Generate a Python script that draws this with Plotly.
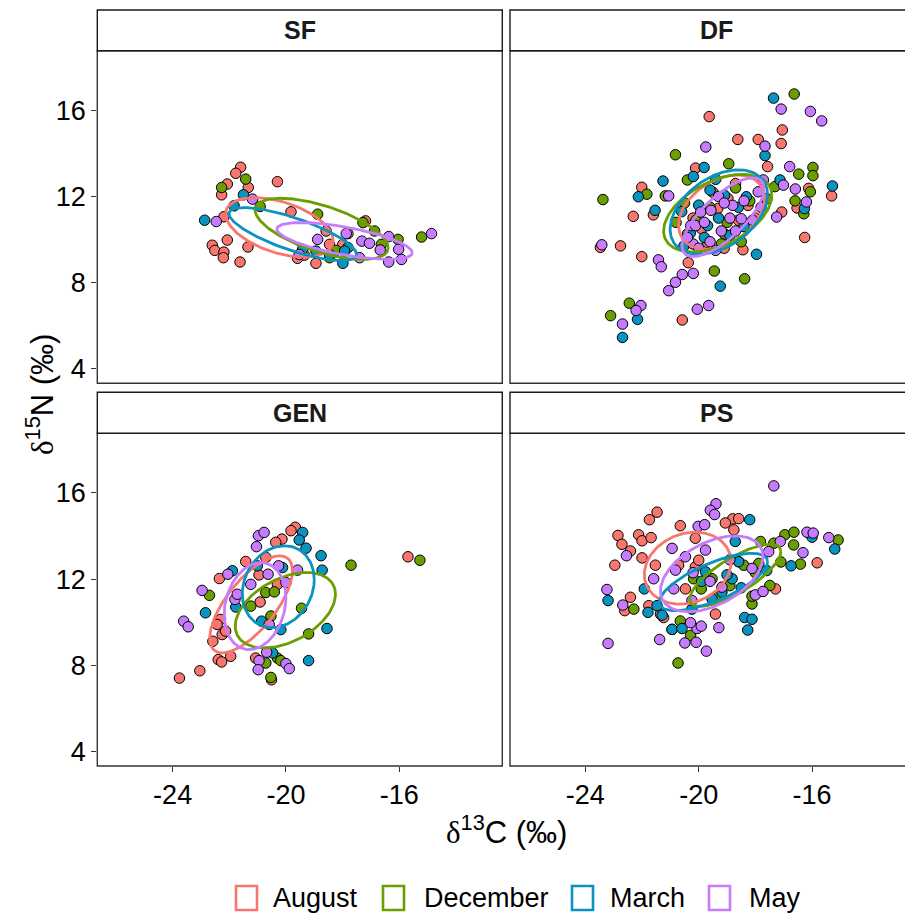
import numpy as np
import plotly.graph_objects as go

seasons = ["August", "December", "March", "May"]
colors = ["#F8766D", "#6B9E00", "#0A93BF", "#C77CFF"]
panels = ["SF", "DF", "GEN", "PS"]
x_ticks = [-24, -20, -16]
x_tick_labels = ["-24", "-20", "-16"]
y_ticks = [4, 8, 12, 16]
y_tick_labels = ["4", "8", "12", "16"]

# ---------------- SF ----------------
sf_aug_x = [-21.60, -21.77, -22.07, -22.27, -21.33, -20.30, -19.82, -22.19, -22.07, -22.60, -22.51, -22.19,
            -22.21, -21.62, -21.34, -19.59, -19.35, -18.94, -18.58, -17.81, -17.19, -17.99, -18.46]
sf_aug_y = [13.36, 13.08, 12.58, 12.08, 12.42, 12.69, 11.29, 11.06, 9.98, 9.74, 9.50, 9.42,
            9.16, 8.96, 9.66, 9.13, 9.28, 8.90, 10.40, 10.28, 10.87, 9.78, 9.78]
sf_dec_x = [-21.42, -22.27, -20.91, -18.88, -17.28, -16.87, -16.04, -15.21, -18.46, -18.23, -16.63]
sf_dec_y = [12.81, 12.42, 11.54, 11.18, 10.79, 10.40, 10.01, 10.12, 9.16, 9.50, 9.78]
sf_mar_x = [-22.87, -21.50, -21.83, -19.41, -18.94, -17.99, -17.81, -18.46, -17.93]
sf_mar_y = [10.90, 12.08, 11.57, 9.55, 9.47, 8.90, 9.63, 9.31, 9.47]
sf_may_x = [-22.46, -21.18, -18.88, -17.87, -17.32, -17.05, -16.67, -16.37, -16.02, -15.92, -16.37, -17.40,
            -14.86, -19.53]
sf_may_y = [10.84, 11.88, 10.01, 10.28, 9.93, 9.83, 9.52, 10.14, 9.55, 9.08, 8.96, 9.16, 10.28, 9.31]

# ---------------- DF ----------------
df_aug_x = [-19.63, -18.62, -17.90, -17.05, -17.09, -17.57, -22.01, -22.31, -21.60, -22.76, -23.47, -22.01,
            -20.58, -16.26, -15.31, -16.12, -16.53, -17.07, -20.11, -20.37, -18.44, -18.26, -19.33, -19.69,
            -18.97, -19.9, -19.0, -18.7, -19.5, -18.6, -20.2, -19.1, -18.0]
df_aug_y = [15.71, 14.65, 14.65, 15.09, 14.46, 13.39, 12.43, 11.08, 11.15, 9.71, 9.64, 9.21,
            6.27, 10.10, 12.03, 12.38, 11.47, 11.28, 13.32, 8.93, 9.53, 11.59, 11.44, 9.87,
            11.91, 10.5, 10.0, 12.6, 12.2, 10.9, 11.0, 9.6, 11.0]
df_dec_x = [-23.38, -20.82, -18.94, -16.63, -15.97, -15.97, -16.47, -17.31, -16.29, -18.38, -19.45, -22.45,
            -23.11, -21.83, -21.18, -20.40, -16.06, -19.09, -20.40, -19.6, -18.7, -20.1, -18.2, -19.0,
            -17.6, -16.6, -20.5, -19.2, -18.5, -20.8]
df_dec_y = [11.86, 13.94, 13.52, 16.76, 13.35, 12.97, 13.04, 12.46, 11.20, 8.18, 8.54, 7.05,
            6.47, 12.11, 12.03, 12.77, 12.22, 10.26, 10.26, 11.5, 12.4, 10.9, 11.8, 10.8,
            11.9, 11.8, 11.7, 9.8, 9.9, 10.8]
df_mar_x = [-17.36, -17.66, -17.13, -15.28, -22.13, -21.26, -21.54, -20.19, -19.81, -17.96, -19.24, -22.16,
            -22.69, -18.32, -19.09, -19.69, -20.52, -16.27, -19.3, -18.9, -20.0, -19.6, -18.6, -20.3,
            -19.8, -18.4, -19.4, -20.6]
df_mar_y = [16.57, 13.90, 12.77, 12.49, 11.99, 12.72, 11.36, 12.93, 13.35, 9.32, 7.84, 6.30,
            5.46, 11.99, 12.06, 10.65, 9.71, 11.44, 11.0, 10.2, 11.6, 12.3, 11.5, 10.3,
            10.1, 10.6, 12.8, 11.3]
df_may_x = [-17.09, -16.06, -15.66, -19.75, -17.66, -16.79, -17.72, -17.01, -16.59, -16.20, -17.25, -21.06,
            -23.42, -21.42, -21.32, -20.58, -20.19, -20.82, -21.06, -22.04, -22.21, -22.69, -20.05, -19.65,
            -19.93, -19.57, -18.80, -18.50, -17.90, -20.28, -20.11, -19.2, -18.9, -19.6, -20.2, -18.4,
            -19.3, -19.8, -18.7, -20.0, -19.4, -18.1, -17.8, -19.1, -20.4]
df_may_y = [16.06, 15.95, 15.51, 14.30, 14.34, 13.39, 12.77, 12.53, 12.35, 11.75, 11.05, 12.03,
            9.76, 9.06, 8.74, 8.38, 8.43, 8.02, 7.63, 6.94, 6.71, 6.08, 6.77, 6.94,
            11.28, 11.36, 11.59, 10.97, 12.22, 10.65, 10.65, 10.4, 11.0, 9.9, 9.8, 11.8,
            12.0, 10.8, 10.4, 9.6, 9.5, 10.9, 11.5, 11.7, 10.1]

# ---------------- GEN ----------------
gen_aug_x = [-15.69, -19.67, -19.82, -20.14, -20.36, -21.42, -22.35, -20.95, -20.91, -22.31, -22.43, -22.25,
             -22.13, -22.58, -22.39, -22.27, -21.95, -23.04, -23.76, -21.07, -20.51, -20.71, -20.30]
gen_aug_y = [13.04, 14.41, 14.25, 13.86, 13.71, 12.82, 12.03, 12.20, 10.94, 10.13, 9.90, 9.43,
             9.59, 9.12, 8.27, 8.16, 8.42, 7.75, 7.41, 8.34, 7.33, 13.01, 11.76]
gen_dec_x = [-15.27, -17.70, -22.70, -20.71, -20.41, -19.45, -19.20, -20.53, -20.30, -20.18, -20.53, -20.71,
             -21.24]
gen_dec_y = [12.88, 12.65, 11.25, 11.38, 11.41, 10.65, 9.46, 10.29, 8.34, 8.22, 7.44, 8.11, 10.75]
gen_mar_x = [-19.41, -19.53, -19.29, -18.76, -18.72, -18.55, -19.20, -22.84, -21.77, -21.01, -20.12, -20.86,
             -20.47, -20.18, -21.89]
gen_mar_y = [14.17, 13.82, 13.44, 13.09, 12.42, 9.71, 8.22, 10.44, 10.71, 12.62, 12.54, 10.05,
             8.58, 9.66, 12.39]
gen_may_x = [-20.97, -20.77, -21.04, -22.96, -23.61, -23.45, -22.05, -21.80, -21.24, -20.26, -20.63, -20.00,
             -19.59, -20.95, -20.98, -20.00, -19.88, -20.68, -21.72, -20.59]
gen_may_y = [14.02, 14.17, 13.51, 11.48, 10.05, 9.79, 12.23, 11.06, 11.76, 12.62, 12.23, 11.84,
             12.42, 8.22, 7.80, 8.08, 7.85, 8.61, 11.30, 9.90]

# ---------------- PS ----------------
ps_aug_x = [-21.47, -21.74, -22.85, -22.71, -22.41, -22.12, -22.00, -21.68, -22.96, -22.00, -20.65, -20.12,
            -18.80, -18.59, -19.06, -18.76, -15.82, -22.41, -22.61, -21.76, -21.35, -21.24, -20.94, -20.12,
            -20.00, -19.41, -20.47, -17.29, -21.53, -20.71]
ps_aug_y = [15.11, 14.76, 14.03, 13.62, 13.31, 14.06, 13.78, 13.93, 12.65, 12.99, 14.48, 13.90,
            14.80, 14.81, 14.61, 14.29, 12.76, 11.16, 10.54, 10.77, 10.38, 10.22, 9.67, 12.57,
            12.88, 10.38, 11.55, 11.55, 12.65, 12.65]
ps_dec_x = [-20.73, -22.29, -20.29, -20.65, -17.82, -16.96, -16.64, -16.65, -16.41, -17.35, -17.49, -18.12,
            -18.12, -15.08, -18.59, -19.53, -20.18, -18.41, -17.88, -19.91, -18.9, -19.3, -18.0, -17.1]
ps_dec_y = [8.11, 10.61, 9.39, 10.06, 13.75, 14.06, 14.18, 13.59, 12.70, 13.67, 11.71, 10.85,
            11.21, 13.82, 12.81, 12.02, 12.02, 12.65, 12.73, 11.55, 11.7, 11.2, 12.3, 12.8]
ps_mar_x = [-18.20, -23.20, -21.92, -21.79, -21.29, -20.94, -20.59, -18.38, -18.12, -18.27, -15.20, -16.00,
            -16.74, -18.71, -18.82, -18.59, -19.76, -19.18, -19.53, -20.24, -21.47, -19.0, -18.5, -19.9,
            -17.6]
ps_mar_y = [14.76, 11.01, 11.55, 10.46, 10.33, 9.67, 9.71, 10.22, 10.14, 9.64, 13.40, 13.95,
            12.62, 13.75, 12.02, 12.81, 12.34, 11.40, 11.08, 10.61, 10.77, 12.2, 11.6, 11.9,
            12.4]
ps_may_x = [-17.35, -19.39, -19.59, -19.44, -20.02, -19.79, -22.55, -23.24, -23.20, -21.38, -20.49, -20.09,
            -19.73, -19.29, -20.06, -19.91, -20.29, -18.00, -17.73, -16.18, -15.96, -15.41, -16.32, -17.53,
            -17.12, -18.12, -20.94, -20.47, -19.76, -20.82, -21.59, -20.88, -19.18, -22.68, -20.24, -19.6,
            -18.9, -20.2]
ps_may_y = [16.33, 15.50, 15.20, 15.00, 14.45, 14.53, 13.09, 11.52, 9.02, 9.20, 9.04, 9.07,
            8.66, 9.75, 9.71, 9.82, 9.98, 11.27, 11.43, 14.18, 14.14, 13.93, 13.23, 13.28,
            13.75, 12.50, 13.43, 13.04, 13.35, 12.42, 12.02, 11.55, 11.63, 10.80, 11.01, 11.9,
            12.9, 12.3]

# ---------------- ellipse parameters (per season: Aug, Dec, Mar, May) ----------------
# centre (cx, cy), half x-extent rx, half y-extent ry, phase phi (deg) giving the tilt
sf_ell_cx = [-20.23, -18.74, -19.76, -17.93]
sf_ell_cy = [10.57, 10.50, 10.26, 9.94]
sf_ell_rx = [1.90, 2.35, 2.25, 2.39]
sf_ell_ry = [1.38, 1.42, 1.23, 0.855]
sf_ell_phi = [117, 128, 140, 130]

df_ell_cx = [-19.19, -19.33, -19.29, -19.14]
df_ell_cy = [11.28, 11.23, 11.28, 11.04]
df_ell_rx = [1.52, 1.91, 1.72, 1.45]
df_ell_ry = [1.72, 1.80, 1.96, 1.83]
df_ell_phi = [69, 62.6, 66, 43]

gen_ell_cx = [-21.23, -20.02, -20.27, -21.09]
gen_ell_cy = [10.83, 10.56, 11.65, 10.75]
gen_ell_rx = [1.46, 1.77, 1.27, 1.09]
gen_ell_ry = [2.25, 1.75, 1.90, 2.02]
gen_ell_phi = [46, 65, 80, 79]

ps_ell_cx = [-20.39, -18.71, -19.48, -19.54]
ps_ell_cy = [12.51, 12.18, 11.87, 12.25]
ps_ell_rx = [1.53, 1.61, 1.91, 1.81]
ps_ell_ry = [1.67, 1.44, 1.33, 1.76]
ps_ell_phi = [80, 40, 45, 63]

points = {
    "SF": [(sf_aug_x, sf_aug_y), (sf_dec_x, sf_dec_y), (sf_mar_x, sf_mar_y), (sf_may_x, sf_may_y)],
    "DF": [(df_aug_x, df_aug_y), (df_dec_x, df_dec_y), (df_mar_x, df_mar_y), (df_may_x, df_may_y)],
    "GEN": [(gen_aug_x, gen_aug_y), (gen_dec_x, gen_dec_y), (gen_mar_x, gen_mar_y), (gen_may_x, gen_may_y)],
    "PS": [(ps_aug_x, ps_aug_y), (ps_dec_x, ps_dec_y), (ps_mar_x, ps_mar_y), (ps_may_x, ps_may_y)],
}
ellipses = {
    "SF": (sf_ell_cx, sf_ell_cy, sf_ell_rx, sf_ell_ry, sf_ell_phi),
    "DF": (df_ell_cx, df_ell_cy, df_ell_rx, df_ell_ry, df_ell_phi),
    "GEN": (gen_ell_cx, gen_ell_cy, gen_ell_rx, gen_ell_ry, gen_ell_phi),
    "PS": (ps_ell_cx, ps_ell_cy, ps_ell_rx, ps_ell_ry, ps_ell_phi),
}


def ellipse_path(cx, cy, rx, ry, phi_deg, n=160):
    t = np.linspace(0, 2 * np.pi, n)
    phi = np.deg2rad(phi_deg)
    return cx + rx * np.cos(t), cy + ry * np.cos(t - phi)


W, H = 905, 915
FONT = "Liberation Sans, Arial, sans-serif"

# panel geometry (paper fractions)
x_dom = {"L": [97.3 / W, 502.3 / W], "R": [510 / W, 1.0]}
y_dom = {"T": [1 - 383.3 / H, 1 - 50.7 / H], "B": [1 - 766 / H, 1 - 433.3 / H]}
strip_y = {"T": [1 - 50.7 / H, 1 - 10 / H], "B": [1 - 433.3 / H, 1 - 392.3 / H]}
x_rng = {"L": [-26.66, -12.36], "R": [-26.66, -12.72]}
y_rng = [3.33, 18.77]

panel_pos = {"SF": ("L", "T", ""), "DF": ("R", "T", "2"), "GEN": ("L", "B", "3"), "PS": ("R", "B", "4")}

fig = go.Figure()

for p in panels:
    col, row, sfx = panel_pos[p]
    xa, ya = "x" + sfx, "y" + sfx
    for i, s in enumerate(seasons):
        px, py = points[p][i]
        fig.add_trace(go.Scatter(
            x=px, y=py, mode="markers", xaxis=xa, yaxis=ya, showlegend=False,
            marker=dict(size=10.5, color=colors[i], line=dict(color="black", width=1)),
            name=s, hoverinfo="skip"))
    cxs, cys, rxs, rys, phis = ellipses[p]
    for i, s in enumerate(seasons):
        ex, ey = ellipse_path(cxs[i], cys[i], rxs[i], rys[i], phis[i])
        fig.add_trace(go.Scatter(
            x=ex, y=ey, mode="lines", xaxis=xa, yaxis=ya, showlegend=False,
            line=dict(color=colors[i], width=2.8), name=s, hoverinfo="skip"))

layout = dict(
    width=W, height=H, margin=dict(l=0, r=0, t=0, b=0),
    paper_bgcolor="white", plot_bgcolor="white", showlegend=False,
    font=dict(family=FONT, color="black"),
)

shapes = []
annotations = []
for p in panels:
    col, row, sfx = panel_pos[p]
    xk = "xaxis" + sfx
    yk = "yaxis" + sfx
    bottom = row == "B"
    left = col == "L"
    xa_cfg = dict(
        domain=x_dom[col], range=x_rng[col], anchor="y" + sfx,
        showgrid=False, zeroline=False, showline=False,
        ticklen=5, tickwidth=1.3, tickcolor="#333333",
        tickfont=dict(size=27, color="black", family=FONT),
    )
    if bottom:
        xa_cfg.update(tickmode="array", tickvals=x_ticks, ticktext=x_tick_labels,
                      ticks="outside", showticklabels=True)
    else:
        xa_cfg.update(ticks="", showticklabels=False)
    layout[xk] = xa_cfg
    ya_cfg = dict(
        domain=y_dom[row], range=y_rng, anchor="x" + sfx,
        showgrid=False, zeroline=False, showline=False,
        ticklen=5, tickwidth=1.3, tickcolor="#333333",
        tickfont=dict(size=27, color="black", family=FONT),
    )
    if left:
        ya_cfg.update(tickmode="array", tickvals=y_ticks, ticktext=y_tick_labels,
                      ticks="outside", showticklabels=True)
    else:
        ya_cfg.update(ticks="", showticklabels=False)
    layout[yk] = ya_cfg
    x0, x1 = x_dom[col]
    if col == "R":
        x1 = 1.02
    # panel border
    shapes.append(dict(type="rect", xref="paper", yref="paper", x0=x0, x1=x1,
                       y0=y_dom[row][0], y1=y_dom[row][1],
                       line=dict(color="#333333", width=1.4), fillcolor="rgba(0,0,0,0)", layer="above"))
    # strip
    shapes.append(dict(type="rect", xref="paper", yref="paper", x0=x0, x1=x1,
                       y0=strip_y[row][0], y1=strip_y[row][1],
                       line=dict(color="#1a1a1a", width=1.4), fillcolor="white"))
    annotations.append(dict(xref="paper", yref="paper",
                            x=(x0 + x1) / 2, y=(strip_y[row][0] + strip_y[row][1]) / 2,
                            text="<b>%s</b>" % p, showarrow=False, xanchor="center", yanchor="middle",
                            font=dict(size=25, color="#1a1a1a", family=FONT)))

# axis titles
annotations.append(dict(xref="paper", yref="paper", x=506 / W, y=1 - 830 / H,
                        text="<span style='font-family:Liberation Serif'>δ</span><sup>13</sup>C (‰)",
                        showarrow=False, xanchor="center", yanchor="middle",
                        font=dict(size=31, color="black", family=FONT)))
annotations.append(dict(xref="paper", yref="paper", x=40 / W, y=1 - 395 / H,
                        text="<span style='font-family:Liberation Serif'>δ</span><sup>15</sup>N (‰)",
                        showarrow=False, xanchor="center", yanchor="middle", textangle=-90,
                        font=dict(size=31, color="black", family=FONT)))

# legend (hollow square keys + labels)
key_x0 = [236, 383, 572, 709]
text_x0 = [271, 422, 608, 747]
leg_y = 898
for i, s in enumerate(seasons):
    shapes.append(dict(type="rect", xref="paper", yref="paper",
                       x0=key_x0[i] / W, x1=(key_x0[i] + 21) / W,
                       y0=1 - (leg_y + 12) / H, y1=1 - (leg_y - 12) / H,
                       line=dict(color=colors[i], width=2.6), fillcolor="white"))
    annotations.append(dict(xref="paper", yref="paper", x=text_x0[i] / W, y=1 - leg_y / H,
                            text=s, showarrow=False, xanchor="left", yanchor="middle",
                            font=dict(size=27, color="black", family=FONT)))

layout["shapes"] = shapes
layout["annotations"] = annotations
fig.update_layout(**layout)

fig.write_html("out.html")
